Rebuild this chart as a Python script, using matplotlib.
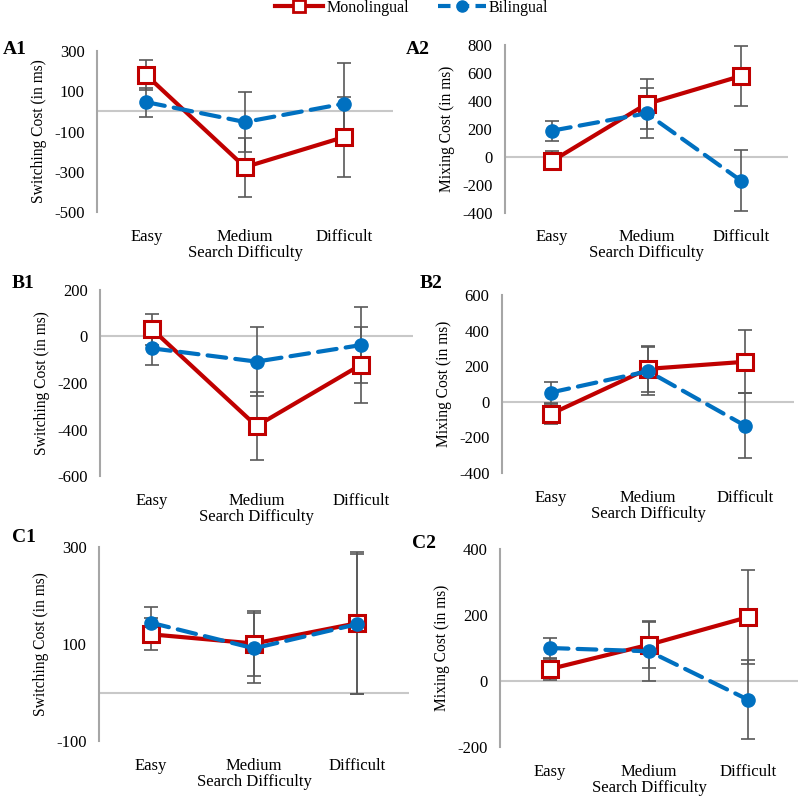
import matplotlib
matplotlib.use("Agg")
import matplotlib.pyplot as plt
from matplotlib.lines import Line2D

plt.rcParams['font.family'] = ['Liberation Serif', 'DejaVu Serif']

categories = ["Easy", "Medium", "Difficult"]
series_names = ["Monolingual", "Bilingual"]

A1_mono = [180, -277, -128]
A1_mono_err = [75, 146, 200]
A1_bi = [46, -53, 38]
A1_bi_err = [72, 150, 200]

A2_mono = [-30, 378, 578]
A2_mono_err = [68, 177, 215]
A2_bi = [187, 311, -170]
A2_bi_err = [72, 180, 220]

B1_mono = [31, -385, -122]
B1_mono_err = [66, 145, 162]
B1_bi = [-51, -108, -37]
B1_bi_err = [70, 148, 165]

B2_mono = [-69, 185, 225]
B2_mono_err = [55, 130, 177]
B2_bi = [52, 172, -135]
B2_bi_err = [61, 135, 182]

C1_mono = [120, 101, 143]
C1_mono_err = [33, 68, 146]
C1_bi = [144, 91, 141]
C1_bi_err = [33, 72, 145]

C2_mono = [36, 110, 194]
C2_mono_err = [32, 72, 143]
C2_bi = [100, 90, -57]
C2_bi_err = [30, 90, 120]

panel_labels = ["A1", "A2", "B1", "B2", "C1", "C2"]
ylabels = ["Switching Cost (in ms)", "Mixing Cost (in ms)"] * 3
yticks_list = [
    [-500, -300, -100, 100, 300],
    [-400, -200, 0, 200, 400, 600, 800],
    [-600, -400, -200, 0, 200],
    [-400, -200, 0, 200, 400, 600],
    [-100, 100, 300],
    [-200, 0, 200, 400],
]
data = [
    (A1_mono, A1_mono_err, A1_bi, A1_bi_err),
    (A2_mono, A2_mono_err, A2_bi, A2_bi_err),
    (B1_mono, B1_mono_err, B1_bi, B1_bi_err),
    (B2_mono, B2_mono_err, B2_bi, B2_bi_err),
    (C1_mono, C1_mono_err, C1_bi, C1_bi_err),
    (C2_mono, C2_mono_err, C2_bi, C2_bi_err),
]

# pixel rects: x0, x1, y0, y1
rects_px = [
    (97, 393, 51, 212),
    (505, 788, 45, 212.7),
    (100, 413, 290, 476),
    (502, 794, 295, 473),
    (99, 409, 547, 741),
    (500, 798, 549, 747),
]
label_pos_px = [(3, 49), (406, 49), (12, 283), (420, 284), (12, 538), (412, 544)]

W, H = 800, 798
RED = "#C00000"
BLUE = "#0070C0"
ERR = "#595959"

fig = plt.figure(figsize=(W / 100, H / 100), dpi=100)

for i in range(6):
    x0, x1, y0, y1 = rects_px[i]
    ax = fig.add_axes([x0 / W, 1 - y1 / H, (x1 - x0) / W, (y1 - y0) / H])
    mono, mono_err, bi, bi_err = data[i]
    xs = list(range(len(categories)))
    ax.axhline(0, color="#c8c8c8", lw=1.5, zorder=1)
    ax.errorbar(xs, mono, yerr=mono_err, fmt="none", ecolor=ERR, elinewidth=1.2,
                capsize=5, capthick=1.2, zorder=2)
    ax.errorbar(xs, bi, yerr=bi_err, fmt="none", ecolor=ERR, elinewidth=1.2,
                capsize=5, capthick=1.2, zorder=2)
    ax.plot(xs, mono, color=RED, lw=3, marker="s", markersize=12,
            markerfacecolor="white", markeredgecolor=RED, markeredgewidth=2.2,
            zorder=3, solid_capstyle="round")
    ax.plot(xs, bi, color=BLUE, lw=3, linestyle=(0, (4.5, 2.2)), marker="o",
            markersize=9.5, markerfacecolor=BLUE, markeredgecolor=BLUE,
            zorder=4, dash_capstyle="round")
    yt = yticks_list[i]
    ax.set_ylim(yt[0], yt[-1])
    ax.set_yticks(yt)
    ax.set_yticklabels([str(v) for v in yt], fontsize=12)
    ax.set_xlim(-0.5, 2.5)
    ax.set_xticks(xs)
    ax.set_xticklabels(categories, fontsize=12)
    ax.tick_params(axis="both", length=0)
    ax.tick_params(axis="y", pad=9)
    ax.tick_params(axis="x", pad=12)
    for s in ["top", "right", "bottom"]:
        ax.spines[s].set_visible(False)
    ax.spines["left"].set_color("#a6a6a6")
    ax.spines["left"].set_linewidth(1.5)
    ax.set_xlabel("Search Difficulty", fontsize=12, labelpad=0)
    ax.set_ylabel(ylabels[i], fontsize=11.2, labelpad=5)
    ax.patch.set_alpha(0)
    lx, ly = label_pos_px[i]
    fig.text(lx / W, 1 - ly / H, panel_labels[i], fontsize=14, fontweight="bold",
             ha="left", va="center")

handles = [
    Line2D([], [], color=RED, lw=3, marker="s", markersize=9, markerfacecolor="white",
           markeredgecolor=RED, markeredgewidth=2),
    Line2D([], [], color=BLUE, lw=3, linestyle=(0, (3, 1.5)), marker="o", markersize=8,
           markerfacecolor=BLUE, markeredgecolor=BLUE),
]
fig.legend(handles, series_names, loc="center", bbox_to_anchor=(0.515, 1 - 8 / H),
           ncol=2, frameon=False, fontsize=11.5, handlelength=3.0, handletextpad=0.2,
           columnspacing=1.8, borderpad=0)

fig.savefig("out.png", dpi=100)
